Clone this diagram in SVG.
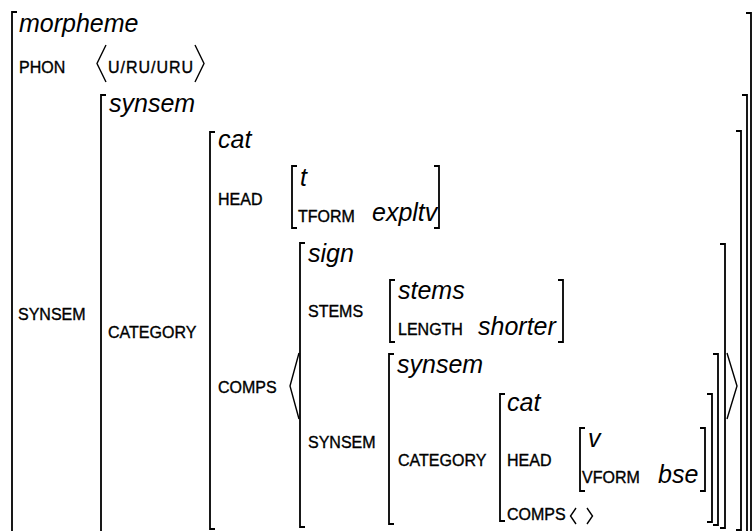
<svg xmlns="http://www.w3.org/2000/svg" width="753" height="531" viewBox="0 0 753 531">
  <style>
    .type { font-family: "Liberation Sans", Arial, sans-serif; font-style: italic; font-size: 25px; fill: #000; }
    .feat { font-family: "Liberation Sans", Arial, sans-serif; font-size: 16px; fill: #000; stroke: #000; stroke-width: 0.35; }
    .br { fill: none; stroke: #000; stroke-width: 1.8; }
    .ang { fill: none; stroke: #000; stroke-width: 1.4; stroke-linejoin: miter; }
  </style>
  <rect width="753" height="531" fill="#fff"/>

  <!-- outer morpheme structure -->
  <g id="morpheme">
    <path class="br" d="M17,12 H12 V545"/>
    <path class="br" d="M746,13 H751 V545"/>
    <text class="type" x="19" y="32">morpheme</text>
    <text class="feat" x="19" y="73">PHON</text>
    <path class="ang" d="M106,45 L97,63.5 L106,82"/>
    <text class="feat" x="108" y="73" textLength="85" lengthAdjust="spacing">U/RU/URU</text>
    <path class="ang" d="M195,45 L204,63.5 L195,82"/>
    <text class="feat" x="18" y="320">SYNSEM</text>
  </g>

  <!-- synsem value of SYNSEM -->
  <g id="synsem-outer">
    <path class="br" d="M106,95 H101 V545"/>
    <path class="br" d="M742,95 H747 V545"/>
    <text class="type" x="109" y="112">synsem</text>
    <text class="feat" x="108" y="338">CATEGORY</text>
  </g>

  <!-- cat value of CATEGORY -->
  <g id="cat-outer">
    <path class="br" d="M215,132 H210 V529 H215"/>
    <path class="br" d="M736,131 H741 V530 H736"/>
    <text class="type" x="218" y="148">cat</text>
    <text class="feat" x="218" y="205">HEAD</text>
    <text class="feat" x="218" y="393">COMPS</text>
    <path class="ang" d="M299,353 L290,386 L299,419"/>
    <path class="ang" d="M727,353 L737,386 L727,419"/>
  </g>

  <!-- t value of HEAD -->
  <g id="head-t">
    <path class="br" d="M297,166 H292 V228 H297"/>
    <path class="br" d="M434,166 H439 V228 H434"/>
    <text class="type" x="300" y="186">t</text>
    <text class="feat" x="298" y="222">TFORM</text>
    <text class="type" x="372" y="221">expltv</text>
  </g>

  <!-- sign element of COMPS list -->
  <g id="sign">
    <path class="br" d="M305,243 H300 V527 H305"/>
    <path class="br" d="M720,244 H725 V528 H720"/>
    <text class="type" x="308" y="262">sign</text>
    <text class="feat" x="308" y="317">STEMS</text>
    <text class="feat" x="308" y="448">SYNSEM</text>
  </g>

  <!-- stems value of STEMS -->
  <g id="stems">
    <path class="br" d="M395,280 H390 V342 H395"/>
    <path class="br" d="M558,280 H563 V342 H558"/>
    <text class="type" x="398" y="299">stems</text>
    <text class="feat" x="398" y="335">LENGTH</text>
    <text class="type" x="478" y="335">shorter</text>
  </g>

  <!-- synsem value of inner SYNSEM -->
  <g id="synsem-inner">
    <path class="br" d="M394,354 H389 V524 H394"/>
    <path class="br" d="M713,354 H718 V525 H713"/>
    <text class="type" x="397" y="373">synsem</text>
    <text class="feat" x="398" y="466">CATEGORY</text>
  </g>

  <!-- cat value of inner CATEGORY -->
  <g id="cat-inner">
    <path class="br" d="M505,394 H500 V521 H505"/>
    <path class="br" d="M707,394 H712 V522 H707"/>
    <text class="type" x="507" y="411">cat</text>
    <text class="feat" x="507" y="466">HEAD</text>
    <text class="feat" x="507" y="520">COMPS</text>
    <path class="ang" d="M576,508 L570.5,516 L576,524"/>
    <path class="ang" d="M587,508 L592.5,516 L587,524"/>
  </g>

  <!-- v value of inner HEAD -->
  <g id="head-v">
    <path class="br" d="M585,428 H580 V491 H585"/>
    <path class="br" d="M700,428 H705 V491 H700"/>
    <text class="type" x="588" y="447">v</text>
    <text class="feat" x="582" y="483">VFORM</text>
    <text class="type" x="658" y="483">bse</text>
  </g>
</svg>
